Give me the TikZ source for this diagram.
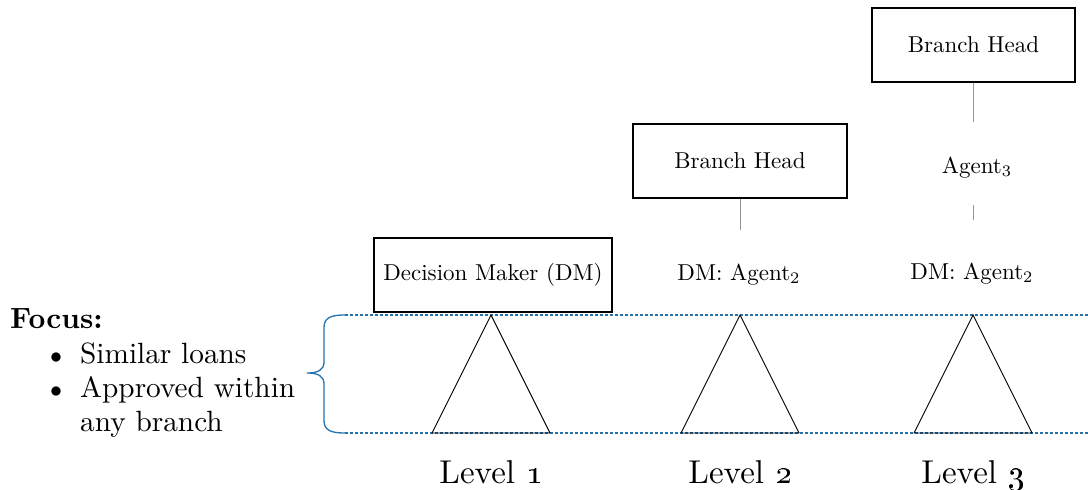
\documentclass[tikz,border=0pt]{standalone}
\usepackage{graphicx}
\definecolor{dotblue}{RGB}{35,115,175}
\definecolor{linkgray}{RGB}{150,150,150}
\newcommand\bxt[1]{\scalebox{2.3}{#1}}
\newcommand\lvt[1]{\scalebox{3.3}{#1}}
\newcommand\lft[1]{\scalebox{2.93}{#1}}
\begin{document}
\begin{tikzpicture}[x=1pt,y=-1pt,
  rolebox/.style={draw=black,line width=1.3pt,minimum height=74pt,inner sep=0pt},
  plain/.style={inner sep=0pt},
  link/.style={draw=linkgray,line width=1pt},
  tri/.style={draw=black,line width=0.9pt},
  rule/.style={draw=dotblue,line width=1.6pt,dash pattern=on 2.5pt off 2.5pt},
  brace/.style={draw=dotblue,line width=1.3pt}]
\useasboundingbox (0,0) rectangle (1088,490);
% boxes
\node[rolebox,minimum width=238pt] (dm) at (493,275) {\bxt{Decision Maker (DM)}};
\node[rolebox,minimum width=214pt] (bh2) at (740,161) {\bxt{Branch Head}};
\node[rolebox,minimum width=203pt] (bh3) at (973.5,45) {\bxt{Branch Head}};
\node[plain,anchor=base] (dm2) at (739,280) {\bxt{DM: Agent$_2$}};
\node[plain,anchor=base] (dm3) at (972,279) {\bxt{DM: Agent$_2$}};
\node[plain,anchor=base] (ag3) at (977,173) {\bxt{Agent$_3$}};
% connectors
\coordinate (e2) at (740,230);
\coordinate (e3) at (973,122);
\coordinate (s1) at (973,205);
\coordinate (s2) at (973,220);
\draw[link] (bh2.south) -- (e2);
\draw[link] (bh3.south -| e3) -- (e3);
\draw[link] (s1) -- (s2);
% dotted rules
\coordinate (r1a) at (345,315);
\coordinate (r1b) at (1088,315);
\coordinate (r2a) at (345,433);
\coordinate (r2b) at (1088,433);
\draw[rule] (r1a) -- (r1b);
\draw[rule] (r2a) -- (r2b);
% triangles
\foreach \cx/\nm in {491/t1,740/t2,973/t3}{
  \coordinate (\nm apex) at (\cx,315);
  \coordinate (\nm l) at (\cx-59,433);
  \coordinate (\nm r) at (\cx+59,433);
  \draw[tri,line join=miter] (\nm apex) -- (\nm l) -- (\nm r) -- cycle;
}
% brace
\draw[brace] (r1a) .. controls (330,315) and (324,318) .. (324,328) -- (324,362)
  .. controls (324,370) and (318,373) .. (307,373)
  .. controls (318,373) and (324,376) .. (324,384) -- (324,420)
  .. controls (324,430) and (330,433) .. (r2a);
% left text
\node[plain,anchor=base west] (focus) at (10,328) {\lft{\textbf{Focus:}}};
\node[plain,anchor=base west] (b1) at (50,363) {\scalebox{2.4}{$\bullet$}};
\node[plain,anchor=base west] (l1) at (80,363) {\lft{Similar loans}};
\node[plain,anchor=base west] (b2) at (50,397) {\scalebox{2.4}{$\bullet$}};
\node[plain,anchor=base west] (l2) at (80,397) {\lft{Approved within}};
\node[plain,anchor=base west] (l3) at (80,431) {\lft{any branch}};
% level labels
\node[plain,anchor=base] (lv1) at (491,483) {\lvt{Level \oldstylenums{1}}};
\node[plain,anchor=base] (lv2) at (740,483) {\lvt{Level \oldstylenums{2}}};
\node[plain,anchor=base] (lv3) at (973,483) {\lvt{Level \oldstylenums{3}}};
\end{tikzpicture}
\end{document}
